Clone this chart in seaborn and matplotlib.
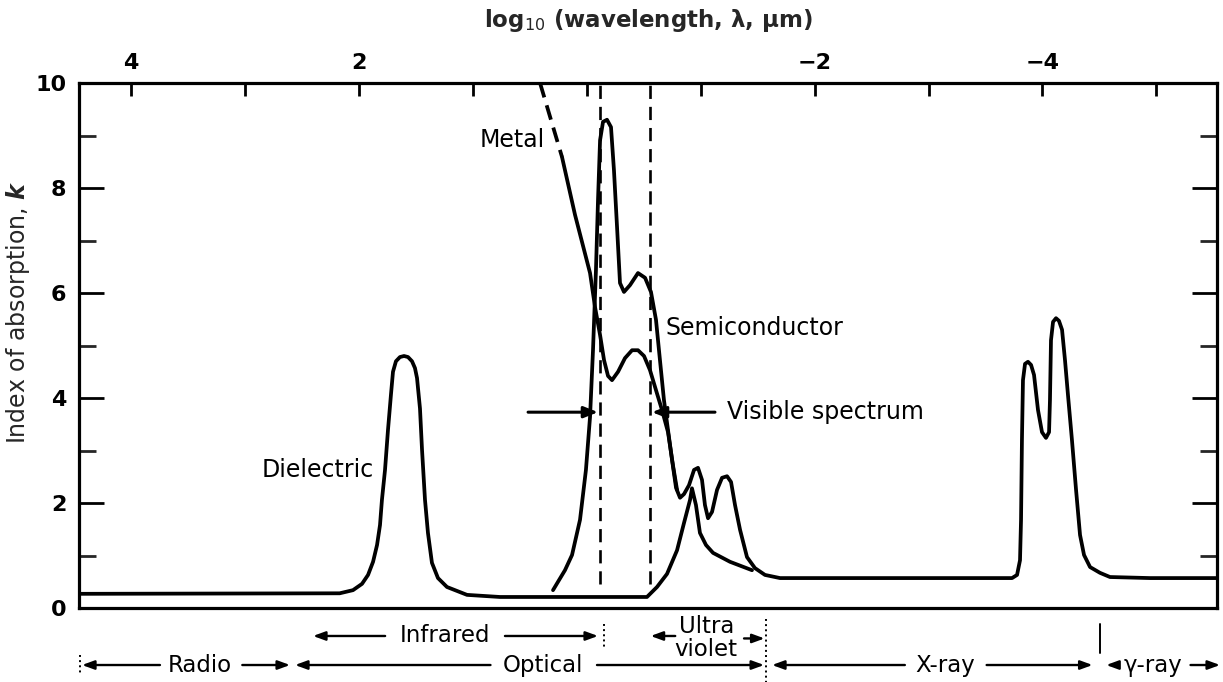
import numpy as np
import pandas as pd
import matplotlib
matplotlib.use("Agg")
import matplotlib.pyplot as plt
import matplotlib.transforms as mtransforms
import seaborn as sns

# ---------------- data: x = log10(wavelength, um), k = index of absorption -------------
diel_x = [4.47, 2.17, 2.053, 1.974, 1.921, 1.877, 1.842, 1.816, 1.799, 1.772, 1.746, 1.720,
          1.702, 1.676, 1.641, 1.605, 1.570, 1.535, 1.509, 1.491, 1.465, 1.447, 1.421,
          1.395, 1.360, 1.307, 1.228, 1.052, 0.763, -0.528, -0.616, -0.704, -0.792,
          -0.853, -0.906, -0.923, -0.958, -0.993, -1.046, -1.108, -1.257, -1.450]
diel_k = [0.27, 0.28, 0.34, 0.46, 0.63, 0.88, 1.20, 1.58, 2.06, 2.63, 3.39, 4.06,
          4.50, 4.70, 4.78, 4.80, 4.78, 4.70, 4.57, 4.38, 3.80, 3.01, 2.06,
          1.43, 0.86, 0.57, 0.40, 0.25, 0.21, 0.21, 0.40, 0.65, 1.10,
          1.62, 2.06, 2.28, 1.96, 1.43, 1.20, 1.05, 0.88, 0.72]

semi_x = [0.297, 0.253, 0.192, 0.130, 0.060, 0.008, -0.028, -0.054, -0.080, -0.098, -0.116,
          -0.142, -0.177, -0.212, -0.238, -0.265, -0.291, -0.326, -0.379, -0.449, -0.511,
          -0.563, -0.607, -0.642, -0.677, -0.7125, -0.748, -0.783, -0.818, -0.853, -0.897,
          -0.941, -0.976, -1.011, -1.037, -1.064, -1.099, -1.143, -1.187, -1.231, -1.266,
          -1.301, -1.345, -1.406, -1.476, -1.564, -1.696, -3.733, -3.777, -3.803, -3.812,
          -3.820, -3.829, -3.847, -3.873, -3.900, -3.926, -3.961, -3.996, -4.031, -4.058,
          -4.066, -4.075, -4.093, -4.119, -4.145, -4.172, -4.198, -4.224, -4.259, -4.295,
          -4.330, -4.365, -4.418, -4.505, -4.593, -4.944, -5.53]
semi_k = [0.34, 0.50, 0.72, 1.01, 1.68, 2.63, 3.64, 4.91, 6.44, 7.77, 8.91,
          9.26, 9.30, 9.16, 8.34, 7.26, 6.19, 6.02, 6.15, 6.38, 6.29,
          6.02, 5.49, 4.72, 3.96, 3.39, 2.82, 2.29, 2.10, 2.17, 2.34,
          2.63, 2.67, 2.44, 1.96, 1.71, 1.83, 2.25, 2.48, 2.51, 2.40,
          1.96, 1.49, 0.97, 0.76, 0.63, 0.57, 0.57, 0.63, 0.91, 1.68,
          3.20, 4.34, 4.65, 4.69, 4.63, 4.44, 3.77, 3.35, 3.24, 3.35,
          3.96, 5.10, 5.45, 5.52, 5.47, 5.30, 4.72, 4.06, 3.20, 2.25,
          1.39, 1.01, 0.78, 0.67, 0.59, 0.57, 0.57]

metal_dash_x = [0.411, 0.218]
metal_dash_k = [10.0, 8.59]
metal_x = [0.218, 0.104, -0.028, -0.072, -0.116, -0.151, -0.186, -0.221, -0.274, -0.335,
           -0.397, -0.449, -0.502, -0.5545, -0.607, -0.660, -0.7125, -0.756, -0.792]
metal_k = [8.59, 7.49, 6.38, 5.73, 5.20, 4.72, 4.42, 4.34, 4.50, 4.76,
           4.91, 4.91, 4.80, 4.53, 4.15, 3.77, 3.35, 2.72, 2.25]

visible_edges = [-0.116, -0.5545]
visible_arrow_k = 3.73

x_ticks = [4, 3, 2, 1, 0, -1, -2, -3, -4, -5]
x_tick_labels = ["4", "", "2", "", "", "", "\u22122", "", "\u22124", ""]
y_major = [0, 2, 4, 6, 8, 10]
y_major_labels = ["0", "2", "4", "6", "8", "10"]
y_minor = [1, 3, 5, 7, 9]

# ---------------- figure ----------------
sns.set_theme(style="white")
plt.rcParams["font.family"] = ["DejaVu Sans"]
plt.rcParams["axes.edgecolor"] = "black"

W, H = 1223, 682
fig = plt.figure(figsize=(W / 100, H / 100), dpi=100)
ax = fig.add_axes([79 / W, 1 - 608 / H, (1217 - 79) / W, 525 / H])


def curve(x, k, **kw):
    df = pd.DataFrame({"x": x, "k": k})
    sns.lineplot(data=df, x="x", y="k", sort=False, estimator=None, ax=ax,
                 color="black", solid_capstyle="round", solid_joinstyle="round", **kw)


curve(diel_x, diel_k, lw=2.7)
curve(semi_x, semi_k, lw=2.7)
curve(metal_x, metal_k, lw=2.7)
curve(metal_dash_x, metal_dash_k, lw=2.7, linestyle=(0, (4, 2.2)))

ax.vlines(visible_edges, 0.45, 10, colors="black", linestyles=(0, (5, 3)), lw=1.9)

ax.set_xlim(4.4587, -5.5325)
ax.set_ylim(0, 10)
ax.set_xlabel("")
ax.set_ylabel("")

for s in ax.spines.values():
    s.set_linewidth(2.3)
    s.set_color("black")

ax.xaxis.tick_top()
ax.set_xticks(x_ticks)
ax.set_xticklabels(x_tick_labels, fontsize=16, fontweight="bold")
ax.tick_params(axis="x", direction="in", length=9, width=2, top=True, bottom=False,
               pad=7, colors="black")

ax.set_yticks(y_major)
ax.set_yticklabels(y_major_labels, fontsize=16, fontweight="bold")
ax.set_yticks(y_minor, minor=True)
ax.tick_params(axis="y", which="major", direction="in", length=18, width=2,
               left=True, right=True, pad=9, colors="black")
ax.tick_params(axis="y", which="minor", direction="in", length=12, width=2,
               left=True, right=True)

# visible spectrum arrows
arrow = dict(arrowstyle="-|>,head_length=0.7,head_width=0.28", color="black", lw=2.2,
             shrinkA=0, shrinkB=0)
ax.annotate("", xy=(-0.098, visible_arrow_k), xytext=(0.516, visible_arrow_k), arrowprops=arrow)
ax.annotate("", xy=(-0.572, visible_arrow_k), xytext=(-1.125, visible_arrow_k), arrowprops=arrow)

lab = dict(fontsize=17, color="black")
ax.text(-1.231, visible_arrow_k, "Visible spectrum", ha="left", va="center", **lab)
ax.text(-0.69, 5.33, "Semiconductor", ha="left", va="center", **lab)
ax.text(0.367, 8.91, "Metal", ha="right", va="center", **lab)
ax.text(1.87, 2.63, "Dielectric", ha="right", va="center", **lab)

# bottom spectral regions
tr = mtransforms.blended_transform_factory(ax.transData, ax.transAxes)
small = dict(arrowstyle="-|>,head_length=0.6,head_width=0.22", color="black", lw=1.7,
             shrinkA=0, shrinkB=0)


def arr(x0, x1, y):
    ax.annotate("", xy=(x1, y), xycoords=tr, xytext=(x0, y), textcoords=tr,
                arrowprops=small, annotation_clip=False)


def vmark(x, y0, y1, ls):
    ax.plot([x, x], [y0, y1], transform=tr, clip_on=False, color="black", lw=1.4, ls=ls)


band = dict(fontsize=16.5, color="black", ha="center", va="center", transform=tr, clip_on=False)
r1, r2 = -0.0533, -0.1086
ax.text(1.245, r1, "Infrared", **band)
arr(1.771, 2.404, r1)
arr(0.719, -0.098, r1)
vmark(-0.151, -0.03, -0.075, ":")

ax.text(-1.048, -0.036, "Ultra", **band)
ax.text(-1.048, -0.080, "violet", **band)
arr(-0.776, -0.560, r1)
arr(-1.38, -1.560, -0.058)
vmark(-1.573, -0.02, -0.145, ":")

ax.text(3.396, r2, "Radio", **band)
arr(3.748, 4.432, r2)
arr(3.025, 2.606, r2)
vmark(4.449, -0.09, -0.125, ":")

ax.text(0.385, r2, "Optical", **band)
arr(0.846, 2.562, r2)
arr(-0.089, -1.556, r2)

ax.text(-3.144, r2, "X-ray", **band)
arr(-2.792, -1.626, r2)
arr(-3.51, -4.44, r2)

vmark(-4.505, -0.03, -0.085, "-")
ax.text(-4.97, r2, "\u03b3-ray", **band)
arr(-4.66, -4.56, r2)
arr(-5.30, -5.559, r2)

# title and y label
fig.text(648 / W, 1 - 20 / H, "log$_{10}$ (wavelength, \u03bb, \u03bcm)", ha="center",
         va="center", fontsize=16.5, fontweight="bold")
ylab = fig.text(18 / W, 1 - 312 / H, r"Index of absorption, $\boldsymbol{k}$", rotation=90,
                ha="center", va="center", fontsize=17)
try:
    fig.canvas.draw()
except Exception:
    ylab.set_text(r"Index of absorption, $\mathit{k}$")

fig.savefig("out.png", dpi=100, facecolor="white")
